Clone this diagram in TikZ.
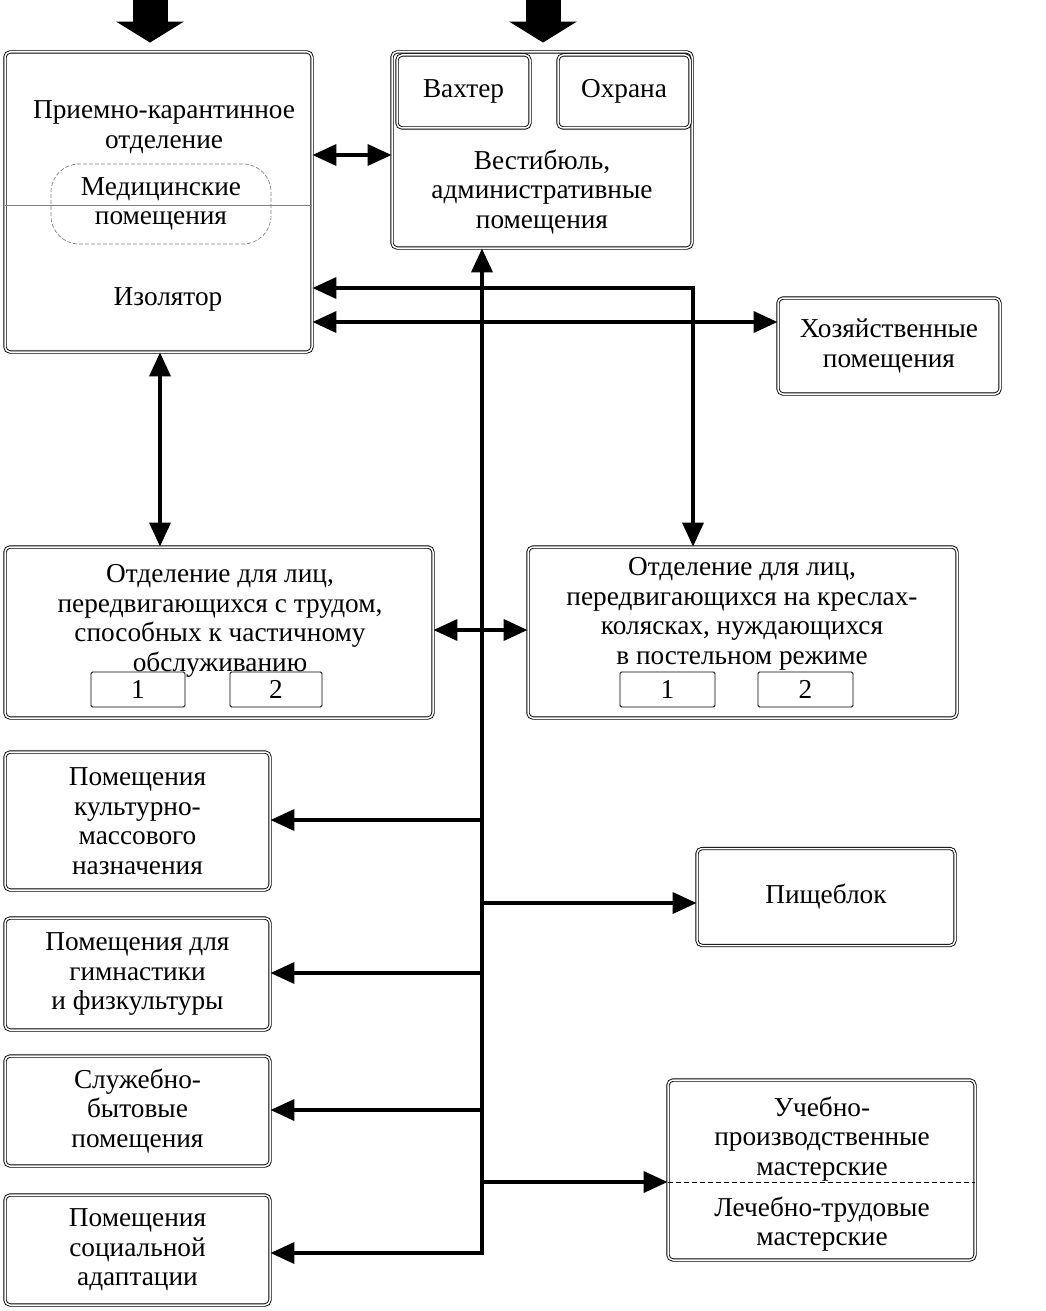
\documentclass[tikz,border=0pt]{standalone}
\usepackage{fontspec}
\setmainfont{Liberation Serif}
\usetikzlibrary{arrows.meta}
\begin{document}
\begin{tikzpicture}[x=1pt,y=-1pt,
 box/.style={draw, double, double distance=1.5pt, line width=0.9pt, rounded corners=5pt, inner sep=0pt},
 txt/.style={font=\fontsize{27.3}{29.5}\selectfont, align=center, inner sep=0pt},
 sub/.style={draw, line width=0.8pt, rounded corners=1.5pt, inner sep=0pt, minimum height=35pt, font=\fontsize{27.3}{29.5}\selectfont},
 conn/.style={line width=3.8pt, -{Triangle[length=24pt,width=21pt]}},
 dbl/.style={line width=3.8pt, {Triangle[length=24pt,width=21pt]}-{Triangle[length=24pt,width=21pt]}},
 entry/.style={line width=35pt, -{Triangle[length=21pt,width=67pt]}, shorten >=9pt},
 thinline/.style={line width=0.7pt, gray},
]
\useasboundingbox (0,0) rectangle (1045,1311);

% --- boxes ---
\node[box, minimum width=307pt, minimum height=300pt] (b1) at (158.5,202) {};
\draw[thinline] (b1.west |- 0,205) -- (b1.east |- 0,205);
\node[draw, dashed, dash pattern=on 4pt off 2pt, line width=0.7pt, gray, text=black, rounded corners=28pt,
      minimum width=220pt, minimum height=80pt, txt] (med) at (161,204) {Медицинские\\помещения};
\node[txt] (t1) at (164,127) {Приемно-карантинное\\отделение};
\node[txt] (t2) at (168,299) {Изолятор};

\node[box, minimum width=300pt, minimum height=196pt] (bv) at (542,150) {};
\node[box, minimum width=133pt, minimum height=73pt, txt] (vah) at (463.5,91.5) {Вахтер};
\node[box, minimum width=132pt, minimum height=73pt, txt] (ohr) at (624,91.5) {Охрана};
\node[txt] (tv) at (542,192) {Вестибюль,\\административные\\помещения};

\node[box, minimum width=222pt, minimum height=96pt, txt] (bh) at (889,346) {Хозяйственные\\помещения};

\node[box, minimum width=428pt, minimum height=171pt] (bl) at (219,632.5) {};
\node[txt] (tl) at (220,621) {Отделение для лиц,\\передвигающихся с трудом,\\способных к частичному\\обслуживанию};
\node[sub, minimum width=94pt] (l1) at (138,689.5) {1};
\node[sub, minimum width=92pt] (l2) at (276,689.5) {2};

\node[box, minimum width=429pt, minimum height=171pt] (br) at (742.5,632.5) {};
\node[txt] (tr) at (742,614) {Отделение для лиц,\\передвигающихся на креслах-\\колясках, нуждающихся\\в постельном режиме};
\node[sub, minimum width=95pt] (r1) at (667.5,689.5) {1};
\node[sub, minimum width=95pt] (r2) at (805.5,689.5) {2};

\node[box, minimum width=265pt, minimum height=138pt, txt] (bc) at (137.5,821) {Помещения\\культурно-\\массового\\назначения};
\node[box, minimum width=265pt, minimum height=112pt, txt] (bg) at (137.5,974) {Помещения для\\гимнастики\\и физкультуры};
\node[box, minimum width=265pt, minimum height=110pt, txt] (bs) at (137.5,1111) {Служебно-\\бытовые\\помещения};
\node[box, minimum width=265pt, minimum height=110pt, txt] (ba) at (137.5,1250) {Помещения\\социальной\\адаптации};

\node[box, minimum width=258pt, minimum height=97pt, txt] (bp) at (826,897) {Пищеблок};

\node[box, minimum width=307pt, minimum height=180pt] (bu) at (821.5,1170) {};
\draw[thinline, dashed, dash pattern=on 5pt off 3pt, black] (bu.west |- 0,1182) -- (bu.east |- 0,1182);
\node[txt] (tu1) at (822,1139) {Учебно-\\производственные\\мастерские};
\node[txt] (tu2) at (822,1224) {Лечебно-трудовые\\мастерские};

% --- entrance arrows ---
\coordinate (e1) at (150,0);
\coordinate (e2) at (543,0);
\draw[entry] (e1) -- (e1 |- b1.north);
\draw[entry] (e2) -- (e2 |- bv.north);

% --- connectors ---
\coordinate (tb) at (482,1253);
\coordinate (k1) at (693,288);
\coordinate (v1) at (160,0);
\draw[dbl] (b1.east |- 0,155) -- (bv.west |- 0,155);
\draw[dbl] (tb -| ba.east) -- (tb) -- (tb |- bv.south);
\draw[dbl] (b1.east |- k1) -- (k1) -- (k1 |- br.north);
\draw[dbl] (b1.east |- 0,322) -- (bh.west |- 0,322);
\draw[dbl] (v1 |- b1.south) -- (v1 |- bl.north);
\draw[dbl] (bl.east |- 0,630) -- (br.west |- 0,630);

\coordinate (j1) at (482,820);
\coordinate (j2) at (482,903);
\coordinate (j3) at (482,973);
\coordinate (j4) at (482,1110);
\coordinate (j5) at (482,1182);
\draw[conn] (j1) -- (j1 -| bc.east);
\draw[conn] (j2) -- (j2 -| bp.west);
\draw[conn] (j3) -- (j3 -| bg.east);
\draw[conn] (j4) -- (j4 -| bs.east);
\draw[conn] (j5) -- (j5 -| bu.west);
\end{tikzpicture}
\end{document}
